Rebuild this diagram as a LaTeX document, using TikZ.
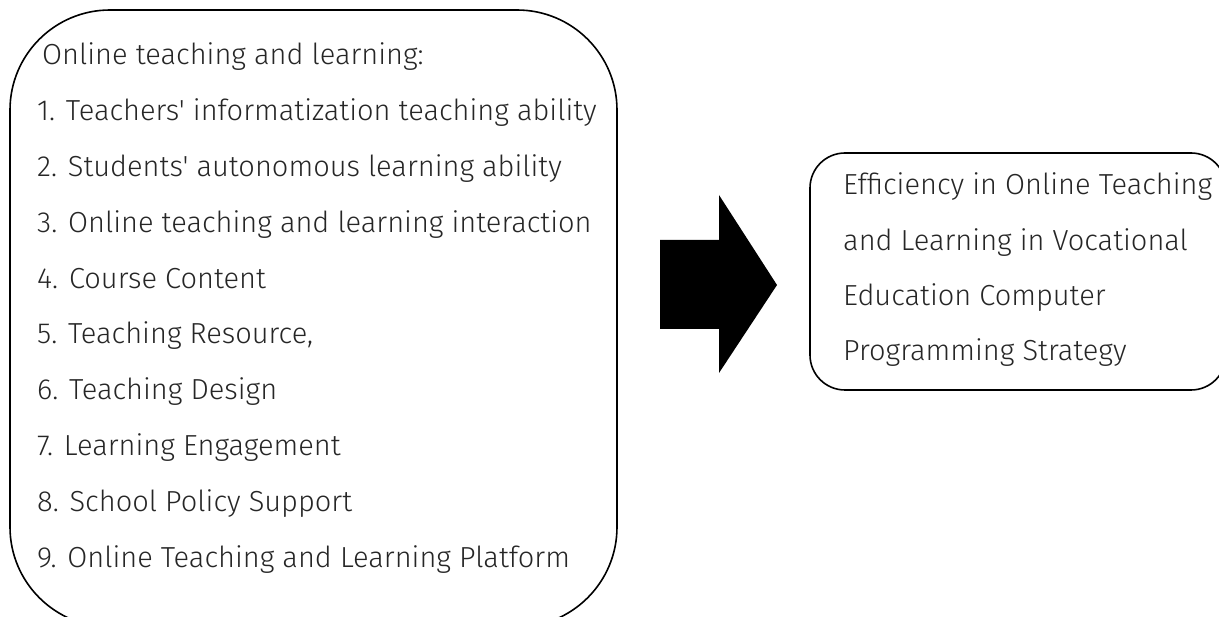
\documentclass[tikz,border=0pt]{standalone}
\usepackage{fontspec}
\newfontfamily\itemfont{Fira Sans Light}
\tikzset{
  itemtext/.style={anchor=base west, inner sep=0pt, font=\itemfont\fontsize{29}{35}\selectfont, text=black!85},
  boxline/.style={draw=black, line width=1.6pt},
}
\begin{document}
\begin{tikzpicture}[x=1pt,y=-1pt]
\useasboundingbox (0,0) rectangle (1219,617);
\clip (0,0) rectangle (1219,617);
% left box
\draw[boxline, rounded corners=100pt] (10,10) rectangle (617,627);
\node[itemtext] (h) at (42,65) {Online teaching and learning:};
\node[itemtext] (i1) at (37,120.8) {1. Teachers' informatization teaching ability};
\node[itemtext] (i2) at (37,176.6) {2. Students' autonomous learning ability};
\node[itemtext] (i3) at (37,232.4) {3. Online teaching and learning interaction};
\node[itemtext] (i4) at (37,288.2) {4. Course Content};
\node[itemtext] (i5) at (37,344) {5. Teaching Resource,};
\node[itemtext] (i6) at (37,399.8) {6. Teaching Design};
\node[itemtext] (i7) at (37,455.6) {7. Learning Engagement};
\node[itemtext] (i8) at (37,511.4) {8. School Policy Support};
\node[itemtext] (i9) at (37,567.2) {9. Online Teaching and Learning Platform};
% arrow
\fill[black] (660,240) -- (719,240) -- (719,195) -- (777,285) -- (719,373) -- (719,329) -- (660,329) -- cycle;
% right box
\draw[boxline, rounded corners=35pt] (810,153) rectangle (1226,390);
\node[itemtext] (r1) at (843,195) {Efficiency in Online Teaching};
\node[itemtext] (r2) at (843,250.3) {and Learning in Vocational};
\node[itemtext] (r3) at (843,305.6) {Education Computer};
\node[itemtext] (r4) at (843,361) {Programming Strategy};
\end{tikzpicture}
\end{document}
